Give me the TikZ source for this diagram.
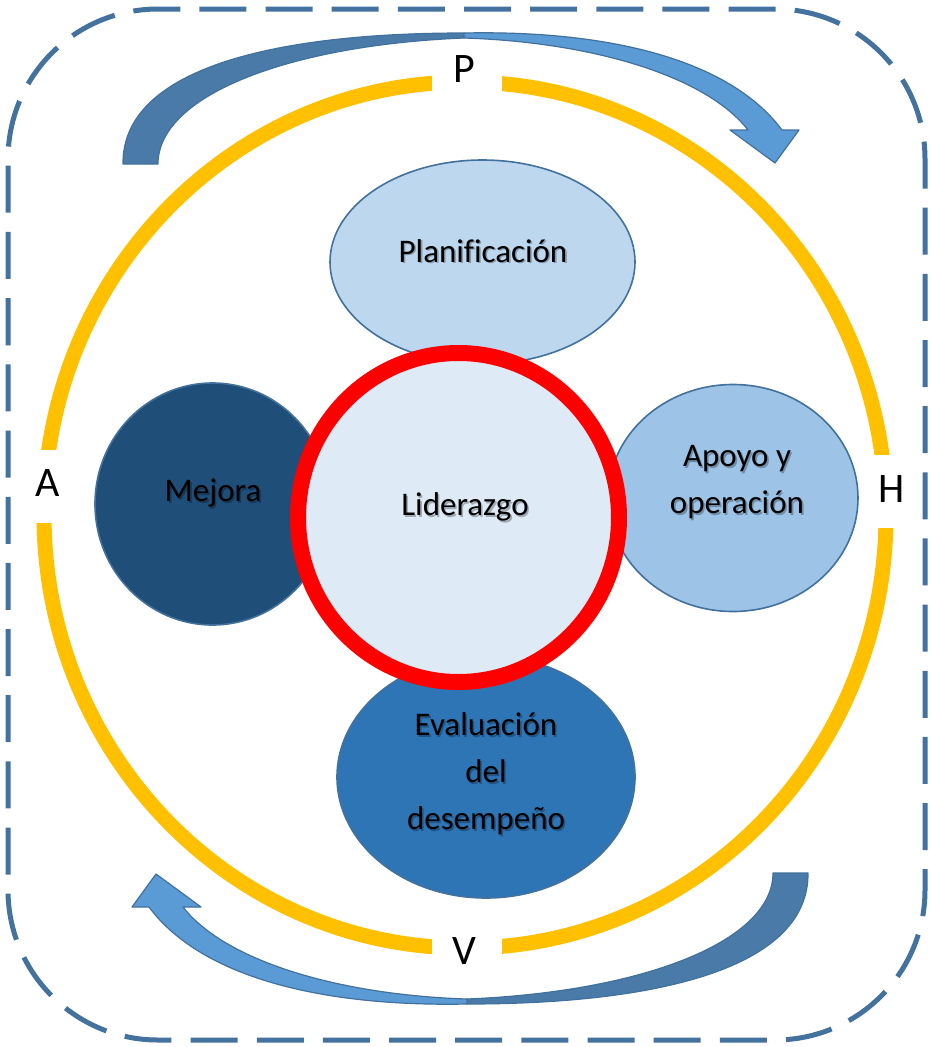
\documentclass[tikz,border=0pt]{standalone}
\usepackage{fontspec}
\setmainfont{Carlito}[Ligatures=NoCommon]
\usetikzlibrary{shapes.geometric}
\definecolor{bordc}{HTML}{41719C}
\definecolor{framec}{HTML}{44729E}
\definecolor{ringc}{HTML}{FFC000}
\definecolor{arrdk}{HTML}{4A7BA8}
\definecolor{arrlt}{HTML}{5B9BD5}
\definecolor{planc}{HTML}{BDD7EE}
\definecolor{apoyoc}{HTML}{9DC3E6}
\definecolor{mejorac}{HTML}{1F4E79}
\definecolor{evalc}{HTML}{2E75B6}
\definecolor{lidc}{HTML}{DEEBF7}
\newcommand{\myarrowpaths}{%
  \draw[arrdark] (123,164) .. controls (122,70) and (270,33) .. (464,33)
     -- (464,38) .. controls (290,45) and (158,95) .. (158,164) -- cycle;
  \draw[arrlight] (464,33) .. controls (610,30) and (730,60) .. (782,130)
     -- (799,130) -- (775,163) -- (730,130) -- (748,130)
     .. controls (705,75) and (590,42) .. (464,38) -- cycle;
}
\newcommand{\mytext}[3]{%
  \node[lbl, text=black, opacity=0.28] at ([shift={(1.6,1.6)}]#2) {#3};
  \node[lbl] (#1) at (#2) {#3};
}
\begin{document}
\begin{tikzpicture}[x=1pt,y=-1pt,
  ell/.style={ellipse, draw=bordc, line width=1.6pt, inner sep=0pt},
  lbl/.style={font=\fontsize{33}{47}\selectfont, align=center, text=black, inner sep=0pt},
  pdca/.style={font=\fontsize{42}{48}\selectfont, text=black, inner sep=0pt},
  gapbox/.style={fill=white, draw=none, inner sep=0pt},
  arrdark/.style={fill=arrdk, draw=bordc, line width=1.2pt, line join=round},
  arrlight/.style={fill=arrlt, draw=bordc, line width=1.2pt, line join=round},
  frame/.style={draw=framec, line width=5pt, dash pattern=on 47pt off 19.15pt, rounded corners=150pt}
]
\useasboundingbox (0,0) rectangle (931,1047);
% dashed frame
\draw[frame] (8,495) -- (8,9) -- (925,9) -- (925,1040) -- (8,1040) -- cycle;
% curved arrows
\myarrowpaths
\begin{scope}[rotate around={180:(465.5,518.5)}]
  \myarrowpaths
\end{scope}
% yellow ring
\node[ellipse, draw=ringc, line width=15pt, minimum width=842, minimum height=866, inner sep=0pt] (ring) at (465,515) {};
% gaps in the ring
\node[gapbox, minimum width=70, minimum height=40] (gapP) at (467,80) {};
\node[gapbox, minimum width=70, minimum height=40] (gapV) at (467,948) {};
\node[gapbox, minimum width=46, minimum height=73] (gapA) at (45,486.5) {};
\node[gapbox, minimum width=46, minimum height=73] (gapH) at (886,491.5) {};
\node[pdca] (P) at (464,69) {P};
\node[pdca] (V) at (464,951) {V};
\node[pdca] (A) at (48,483) {A};
\node[pdca] (H) at (892,489) {H};
% ellipses
\node[ell, fill=planc, minimum width=305, minimum height=204] (plan) at (482.5,262) {};
\node[ell, fill=mejorac, minimum width=235, minimum height=242] (mejora) at (212.5,504) {};
\node[ell, fill=apoyoc, minimum width=250, minimum height=227] (apoyo) at (733,498) {};
\node[ell, fill=evalc, minimum width=298, minimum height=242] (eval) at (486,777) {};
\node[ellipse, draw=red, line width=16pt, fill=lidc, minimum width=321, minimum height=329, inner sep=0pt] (lid) at (458.5,517.5) {};
% texts
\mytext{tplan}{483,251}{Planificación}
\mytext{tmejora}{213,493}{Mejora}
\mytext{tapoyo}{737,482}{Apoyo y\\operación}
\mytext{teval}{486,774}{Evaluación\\del\\desempeño}
\mytext{tlid}{465,507}{Liderazgo}
\end{tikzpicture}
\end{document}
